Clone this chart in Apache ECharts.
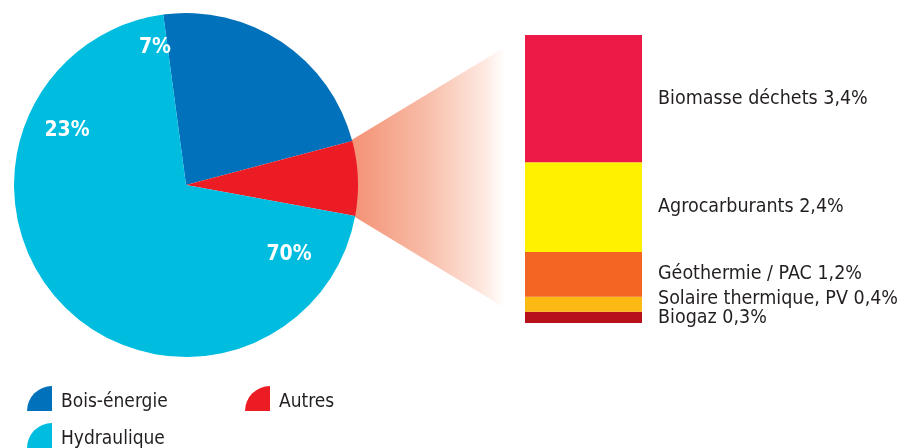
<!DOCTYPE html>
<html><head><meta charset="utf-8">
<script src="https://cdn.jsdelivr.net/npm/echarts@6/dist/echarts.min.js"></script>
<style>html,body{margin:0;padding:0;background:#fff}#c{width:901px;height:448px}</style>
</head><body><div id="c"></div>
<script>
// Main pie
const pieNames = ['Bois-énergie', 'Autres', 'Hydraulique'];
const pieValues = [23, 7, 70];
const pieColors = ['#0071BA', '#EC1C24', '#00BDE0'];
// Labels as printed on the pie (shown values)
const pieLabelTexts = ['7%', '23%', '70%'];

// Breakdown of "Autres"
const subNames = ['Biomasse déchets', 'Agrocarburants', 'Géothermie / PAC', 'Solaire thermique, PV', 'Biogaz'];
const subValues = [3.4, 2.4, 1.2, 0.4, 0.3];
const subColors = ['#ED1946', '#FFF100', '#F26522', '#FDB913', '#B7121B'];

const FONT = "'DejaVu Sans Condensed', 'Liberation Sans Narrow', 'Liberation Sans', sans-serif";
const chart = echarts.init(document.getElementById('c'));
const total = subValues.reduce((a, b) => a + b, 0);
const labelOffsets = [0, 0, 0, -5, 1];

const barSeries = subNames.map((n, i) => i).reverse().map(i => ({
  type: 'bar', name: subNames[i], stack: 'autres', data: [subValues[i]],
  barWidth: '100%', itemStyle: { color: subColors[i] }, z: 3,
  label: {
    show: true, position: 'right', distance: 16, offset: [0, labelOffsets[i]],
    color: '#231F20', fontFamily: FONT, fontSize: 19.5,
    formatter: p => p.seriesName + ' ' + String(p.value).replace('.', ',') + '%'
  }
}));

const labelPos = [[155, 48], [67, 131], [289, 255]];

chart.setOption({
  animation: false,
  grid: { left: 525, width: 117, top: 35, height: 288, containLabel: false },
  xAxis: { type: 'category', data: ['Autres'], show: false },
  yAxis: { type: 'value', min: 0, max: total, show: false },
  legend: pieNames.map((n, i) => ({
    data: [n], left: [27, 245, 27][i], top: [386, 386, 423][i], padding: 0,
    itemWidth: 25, itemHeight: 26, selectedMode: false,
    icon: 'path://M0,10 A10,10 0 0 1 10,0 L10,10 Z',
    formatter: name => '{t|' + name + '}',
    textStyle: {
      fontFamily: FONT, fontSize: 19, color: '#231F20', padding: [0, 0, 0, 4],
      rich: { t: { fontFamily: FONT, fontSize: 19, color: '#231F20', padding: [8, 0, 0, 0] } }
    }
  })),
  graphic: [
    {
      type: 'polygon', z: 0,
      shape: { points: [[345, 144], [505, 47], [505, 308], [345, 211]] },
      style: {
        fill: { type: 'linear', x: 0, y: 0, x2: 1, y2: 0,
          colorStops: [
            { offset: 0, color: '#F38D70' },
            { offset: 0.5, color: '#F8BCA7' },
            { offset: 0.85, color: '#FDE6DD' },
            { offset: 1, color: '#FFFFFF' }
          ] }
      }
    }
  ].concat(pieLabelTexts.map((t, i) => ({
    type: 'text', z: 100, x: labelPos[i][0], y: labelPos[i][1],
    style: { text: t, fill: '#fff', font: 'bold 21px ' + FONT, align: 'center', verticalAlign: 'middle' }
  }))),
  series: [
    {
      type: 'pie', center: [186, 185], radius: 172, startAngle: 97.6, clockwise: true,
      z: 2, label: { show: false }, labelLine: { show: false }, emphasis: { disabled: true },
      itemStyle: { borderWidth: 0 },
      data: pieNames.map((n, i) => ({ name: n, value: pieValues[i], itemStyle: { color: pieColors[i] } }))
    }
  ].concat(barSeries)
});
</script></body></html>
